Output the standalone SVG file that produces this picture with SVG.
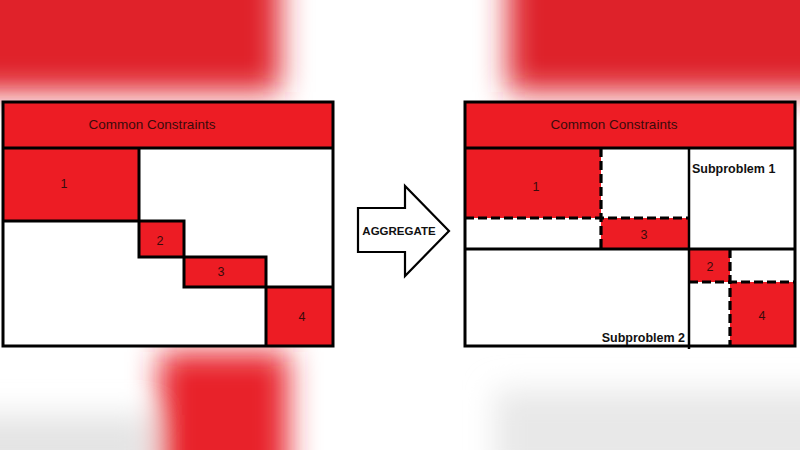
<svg xmlns="http://www.w3.org/2000/svg" width="800" height="450" viewBox="0 0 800 450">
  <defs>
    <filter id="blur" x="-50%" y="-50%" width="200%" height="200%">
      <feGaussianBlur stdDeviation="15"/>
    </filter>
    <style>
      .red{fill:#ED1C24;}
      .wht{fill:#FFFFFF;}
      .edge{fill:none;stroke:#000;stroke-width:3;}
      .dash{fill:none;stroke:#000;stroke-width:3.2;stroke-dasharray:9 4;}
      .lbl{font-family:"Liberation Sans",Arial,sans-serif;font-size:13.5px;fill:#3a0b0b;text-anchor:middle;}
      .num{font-family:"Liberation Sans",Arial,sans-serif;font-size:12.5px;fill:#3a0b0b;text-anchor:middle;}
      .sub{font-family:"Liberation Sans",Arial,sans-serif;font-size:12.5px;font-weight:bold;fill:#111;}
    </style>
  </defs>

  <g id="background">
    <rect x="0" y="0" width="800" height="450" fill="#ffffff"/>
    <g filter="url(#blur)">
      <rect x="-60" y="-40" width="340" height="132" fill="#E0242B"/>
      <rect x="508" y="-40" width="350" height="132" fill="#DE2229"/>
      <rect x="160" y="352" width="128" height="140" fill="#E8222A"/>
      <rect x="-60" y="415" width="210" height="70" fill="#e4e4e4"/>
      <rect x="495" y="390" width="360" height="90" fill="#e8e8e8"/>
    </g>
  </g>

  <g id="left-matrix">
    <rect class="wht" x="3" y="102" width="330" height="244"/>
    <rect class="red" x="3" y="102" width="330" height="46"/>
    <rect class="red" x="3" y="148" width="136" height="73"/>
    <rect class="red" x="139" y="221" width="45" height="36"/>
    <rect class="red" x="184" y="257" width="82" height="30"/>
    <rect class="red" x="266" y="287" width="67" height="59"/>
    <rect class="edge" x="3" y="102" width="330" height="244"/>
    <line class="edge" x1="3" y1="148" x2="333" y2="148"/>
    <path class="edge" d="M3,221 H139 V148 M139,221 V257 H184 V221 H139 M184,257 V287 H266 V257 H184 M266,287 V346 M266,287 H333"/>
    <text class="lbl" x="152" y="129">Common Constraints</text>
    <text class="num" x="64" y="188">1</text>
    <text class="num" x="160" y="245">2</text>
    <text class="num" x="221" y="276">3</text>
    <text class="num" x="302" y="321">4</text>
  </g>

  <g id="connectors">
    <g id="aggregate-arrow">
      <path d="M358,208 H405 V186 L449,231 L405,276 V252 H358 Z" fill="#ffffff" stroke="#000" stroke-width="2.2" stroke-linejoin="miter"/>
      <text x="399" y="235" font-family="'Liberation Sans',Arial,sans-serif" font-size="11.5" font-weight="bold" fill="#111" text-anchor="middle">AGGREGATE</text>
    </g>
  </g>

  <g id="right-matrix">
    <rect class="wht" x="465" y="102" width="330" height="244"/>
    <rect class="red" x="465" y="102" width="330" height="46"/>
    <rect class="red" x="465" y="148" width="136" height="70"/>
    <rect class="red" x="601" y="218" width="88" height="31"/>
    <rect class="red" x="689" y="249" width="41" height="33"/>
    <rect class="red" x="730" y="282" width="65" height="64"/>
    <line class="dash" x1="465" y1="218" x2="689" y2="218"/>
    <line class="dash" x1="601" y1="148" x2="601" y2="249"/>
    <line class="dash" x1="689" y1="282" x2="795" y2="282"/>
    <line class="dash" x1="730" y1="249" x2="730" y2="346"/>
    <rect class="edge" x="465" y="102" width="330" height="244"/>
    <line class="edge" x1="465" y1="148" x2="795" y2="148"/>
    <line class="edge" x1="465" y1="249" x2="795" y2="249"/>
    <line x1="689" y1="148" x2="689" y2="349" stroke="#000" stroke-width="2.5"/>
    <text class="lbl" x="614" y="129">Common Constraints</text>
    <text class="num" x="536" y="191">1</text>
    <text class="num" x="644" y="239">3</text>
    <text class="num" x="710" y="271">2</text>
    <text class="num" x="762" y="320">4</text>
    <text class="sub" x="692" y="173">Subproblem 1</text>
    <text class="sub" x="685" y="342" text-anchor="end">Subproblem 2</text>
  </g>
</svg>
